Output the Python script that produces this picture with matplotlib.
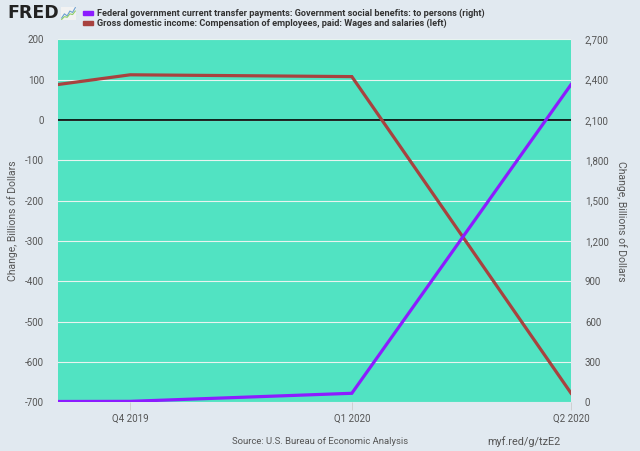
import matplotlib
matplotlib.use("Agg")
import matplotlib.pyplot as plt
import datetime as dt

# Data (quarterly changes, billions of dollars)
quarters = ["2019-07-01", "2019-10-01", "2020-01-01", "2020-04-01"]
wages_change = [38, 112, 107.5, -677]          # left axis
social_benefits_change = [5, 8, 68, 2363]      # right axis
tick_labels = ["Q4 2019", "Q1 2020", "Q2 2020"]
tick_dates = ["2019-10-01", "2020-01-01", "2020-04-01"]
left_ticks = [200, 100, 0, -100, -200, -300, -400, -500, -600, -700]
right_ticks = [2700, 2400, 2100, 1800, 1500, 1200, 900, 600, 300, 0]

dates = [dt.datetime.fromisoformat(d) for d in quarters]
tdates = [dt.datetime.fromisoformat(d) for d in tick_dates]

BG = "#e1e9f0"
AREA = "#51e3c2"
RED = "#a8423f"
PURPLE = "#8c1cff"
TXT = "#555555"
FAM = ["Roboto", "DejaVu Sans"]
plt.rcParams["font.family"] = FAM

fig = plt.figure(figsize=(6.4, 4.51), dpi=100, facecolor=BG)
ax = fig.add_axes([0.0906, 0.1077, 0.8016, 0.8052])
ax.set_facecolor(AREA)
ax2 = ax.twinx()

ax.set_ylim(-700, 200)
ax2.set_ylim(0, 2700)

for s in ax.spines.values():
    s.set_visible(False)
for s in ax2.spines.values():
    s.set_visible(False)

ax.set_yticks(left_ticks)
ax.set_yticklabels([f"{v:,}" for v in left_ticks])
ax2.set_yticks(right_ticks)
ax2.set_yticklabels([f"{v:,}" for v in right_ticks])
ax.grid(axis="y", color="#e8f4f0", linewidth=0.8)
ax.set_axisbelow(True)
ax.axhline(0, color="black", linewidth=1.2, zorder=2)

ax.tick_params(axis="y", length=0, labelsize=7, labelcolor=TXT, pad=10)
ax2.tick_params(axis="y", length=0, labelsize=7, labelcolor=TXT, pad=10)

ax.set_xticks(tdates)
ax.set_xticklabels(tick_labels)
ax.tick_params(axis="x", length=6, color="#cccccc", width=0.6, labelsize=7,
               labelcolor=TXT, pad=2)

ax.plot(dates, wages_change, color=RED, linewidth=2.3, zorder=4, solid_joinstyle="miter")
ax2.plot(dates, social_benefits_change, color=PURPLE, linewidth=2.3, zorder=4, solid_joinstyle="miter")
ax.set_xlim(dt.datetime(2019, 9, 1), dt.datetime(2020, 4, 1))

ax.set_ylabel("Change, Billions of Dollars", fontsize=7.5, color=TXT, labelpad=5)
ax2.set_ylabel("Change, Billions of Dollars", fontsize=7.5, color=TXT, rotation=270, labelpad=13)

# Header / legend
fig.text(7/640, 1 - 13/451, "FRED", fontsize=12.5, fontweight="heavy", color="#222222",
         va="center", ha="left", family="DejaVu Sans")
icon = fig.add_axes([61/640, 1 - 20/451, 15/640, 13/451])
icon.set_facecolor("#f2f2f2")
icon.plot([0, 1, 2, 3, 4, 5], [0.2, 0.5, 0.35, 0.7, 0.6, 0.95], color="#6a9fd0", lw=0.8)
icon.plot([0, 1, 2, 3, 4, 5], [0.1, 0.3, 0.25, 0.5, 0.45, 0.7], color="#8fcf6a", lw=0.8)
icon.set_xticks([]); icon.set_yticks([])
for s in icon.spines.values():
    s.set_visible(False)

legend_items = [
    (PURPLE, "Federal government current transfer payments: Government social benefits: to persons (right)", 13),
    (RED, "Gross domestic income: Compensation of employees, paid: Wages and salaries (left)", 23),
]
for col, lab, yy in legend_items:
    fig.patches.append(plt.Rectangle((83/640, 1 - (yy + 2)/451), 10/640, 4/451,
                                     transform=fig.transFigure, color=col, figure=fig))
    fig.text(97/640, 1 - yy/451, lab, fontsize=6.6, fontweight="bold", color="#333333",
             va="center", ha="left")

fig.text(320/640, 1 - 442/451, "Source: U.S. Bureau of Economic Analysis", fontsize=6.8,
         color=TXT, ha="center", va="center")
fig.text(524/640, 1 - 442/451, "myf.red/g/tzE2", fontsize=7.8, color=TXT, ha="center", va="center")

fig.savefig("out.png", dpi=100, facecolor=BG)
